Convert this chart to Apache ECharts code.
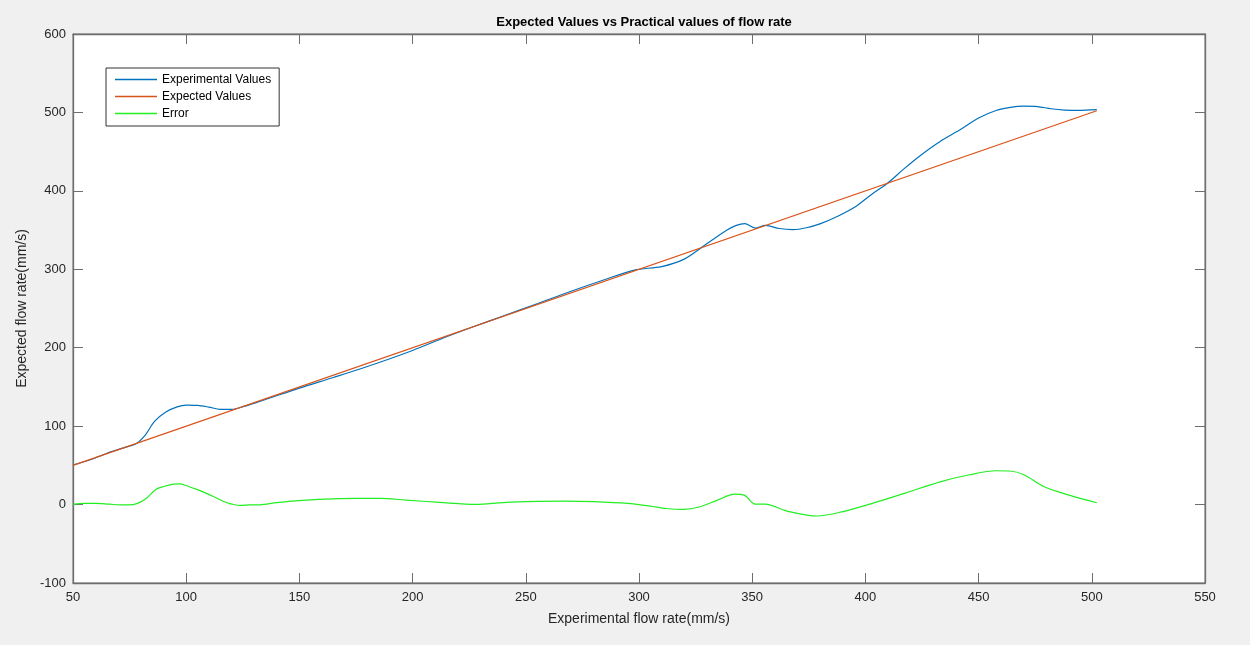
<!DOCTYPE html>
<html>
<head>
<meta charset="utf-8">
<script src="https://cdn.jsdelivr.net/npm/echarts@6/dist/echarts.min.js"></script>
<style>
html,body{margin:0;padding:0;background:#f0f0f0;}
#chart{width:1250px;height:645px;}
</style>
</head>
<body>
<div id="chart"></div>
<script>
const title = 'Expected Values vs Practical values of flow rate';
const xName = 'Experimental flow rate(mm/s)';
const yName = 'Expected flow rate(mm/s)';
const seriesNames = ['Experimental Values', 'Expected Values', 'Error'];

const expX = [50, 58, 65, 72, 78, 82, 86, 91, 96, 100, 105, 110, 115, 120, 126, 135, 150, 165, 180, 200, 215, 228, 240, 255, 270, 285, 298, 310, 320, 329, 338.7, 343, 346.7, 351.3, 355.8, 362, 368, 374, 380.2, 388, 395.4, 403, 409.9, 417, 424.3, 433, 442.5, 450, 457.7, 464, 470, 476, 482, 488, 494.3, 502.2];
const expY = [50.5, 57.5, 65.5, 72, 78, 89, 106, 118, 124.5, 126.8, 126.5, 124.3, 121.5, 121.3, 125.5, 134, 148.5, 162, 176, 196.5, 214, 228, 240.5, 256, 272, 287, 299, 303.5, 313, 330.6, 349.7, 356, 358.2, 352.6, 356, 352, 350.6, 353, 358.2, 368, 379.4, 396, 410, 428, 445.2, 463, 479.2, 493, 502.5, 506.5, 508, 507.5, 504.7, 503, 502.5, 503.5];

const refX = [50, 502.2];
const refY = [50, 502.2];

const errX = [50, 55, 60, 66, 72, 77, 82, 86.7, 90, 94.3, 97, 100.2, 105, 109, 114, 118, 123.8, 128, 132.6, 140, 153, 165, 175, 186, 197, 212, 228, 240, 255, 268, 280, 295, 305, 312, 319.6, 327, 335, 342, 346.7, 351.3, 355.8, 365, 378.7, 390, 403, 418, 433, 446, 457.7, 463.8, 470, 479, 490, 502.2];
const errY = [0.5, 1.5, 1.5, 0.5, -0.5, 0.2, 7, 19.4, 23, 26.1, 26.5, 24, 19, 14.3, 7.5, 2.3, -1, -0.5, -0.3, 2.5, 5.7, 7.3, 7.9, 7.8, 5.7, 2.8, 0.2, 2.5, 4, 4.5, 3.8, 1.5, -2, -5, -6.1, -2.8, 6, 13.4, 11.7, 0.6, 0.6, -8, -14.6, -9, 1.5, 15, 29, 38, 43.1, 42.8, 38, 22.7, 12, 2.3];

const zip = (xs, ys) => xs.map((x, i) => [x, ys[i]]);

const axisColor = '#6e6e6e';
const labelColor = '#262626';
const fontFam = '"Liberation Sans", Arial, Helvetica, sans-serif';

const chart = echarts.init(document.getElementById('chart'));
chart.setOption({
  backgroundColor: '#f0f0f0',
  animation: false,
  title: {
    text: title, left: 639, top: 11, textAlign: 'center',
    textStyle: {fontSize: 13, fontWeight: 'bold', color: '#000', fontFamily: fontFam}
  },
  grid: {left: 73, right: 45, top: 34, bottom: 62, show: true, backgroundColor: '#fff', borderColor: axisColor, borderWidth: 1},
  legend: {
    orient: 'vertical', left: 106, top: 68,
    data: seriesNames.map(n => ({name: n, icon: 'rect'})),
    itemWidth: 42, itemHeight: 1.5, itemGap: 4,
    padding: [5, 8, 6, 9],
    backgroundColor: '#fff', borderColor: '#333', borderWidth: 1,
    textStyle: {fontSize: 12, color: '#000', fontFamily: fontFam, lineHeight: 13}
  },
  xAxis: [{
    type: 'value', min: 50, max: 550, interval: 50,
    name: xName, nameLocation: 'middle', nameGap: 29,
    nameTextStyle: {fontSize: 14, color: labelColor, fontFamily: fontFam},
    axisLine: {show: true, onZero: false, lineStyle: {color: axisColor, width: 1.3}},
    axisTick: {show: true, inside: true, length: 10, lineStyle: {color: axisColor}},
    axisLabel: {fontSize: 13, color: labelColor, margin: 8, fontFamily: fontFam},
    splitLine: {show: false}
  }, {
    type: 'value', position: 'top', min: 50, max: 550, interval: 50,
    axisLine: {show: true, onZero: false, lineStyle: {color: axisColor, width: 1.3}},
    axisTick: {show: true, inside: true, length: 10, lineStyle: {color: axisColor}},
    axisLabel: {show: false}, splitLine: {show: false}
  }],
  yAxis: [{
    type: 'value', min: -100, max: 600, interval: 100,
    name: yName, nameLocation: 'middle', nameGap: 44, nameRotate: 90,
    nameTextStyle: {fontSize: 14, color: labelColor, fontFamily: fontFam},
    axisLine: {show: true, onZero: false, lineStyle: {color: axisColor, width: 1.3}},
    axisTick: {show: true, inside: true, length: 10, lineStyle: {color: axisColor}},
    axisLabel: {fontSize: 13, color: labelColor, margin: 7, fontFamily: fontFam},
    splitLine: {show: false}
  }, {
    type: 'value', position: 'right', min: -100, max: 600, interval: 100,
    axisLine: {show: true, onZero: false, lineStyle: {color: axisColor, width: 1.3}},
    axisTick: {show: true, inside: true, length: 10, lineStyle: {color: axisColor}},
    axisLabel: {show: false}, splitLine: {show: false}
  }],
  series: [{
    name: seriesNames[0], type: 'line', data: zip(expX, expY),
    symbol: 'none', smooth: 0.3, color: '#0072BD',
    lineStyle: {width: 1.2, color: '#0072BD'}
  }, {
    name: seriesNames[1], type: 'line', data: zip(refX, refY),
    symbol: 'none', color: '#D95319',
    lineStyle: {width: 1.2, color: '#D95319'}
  }, {
    name: seriesNames[2], type: 'line', data: zip(errX, errY),
    symbol: 'none', smooth: 0.3, color: '#22ee22',
    lineStyle: {width: 1.2, color: '#22ee22'}
  }]
});
</script>
</body>
</html>
